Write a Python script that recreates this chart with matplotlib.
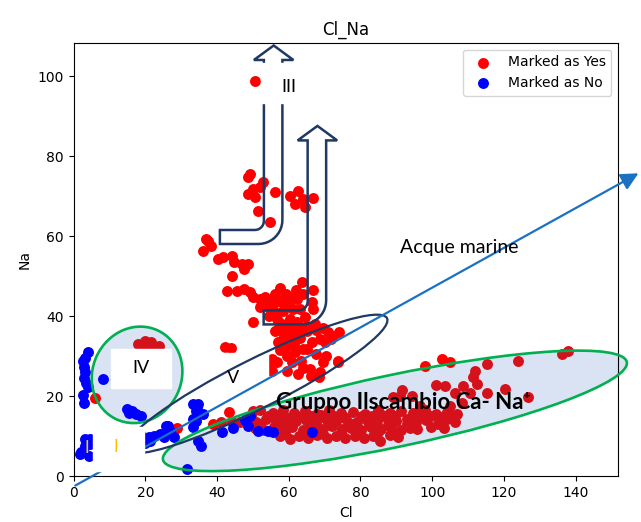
import numpy as np
import matplotlib
matplotlib.use('Agg')
import matplotlib.pyplot as plt
from matplotlib.patches import Ellipse, Rectangle, PathPatch, FancyArrowPatch
from matplotlib.path import Path
from matplotlib.transforms import ScaledTranslation

# campioni "Yes" (Cl, Na)
yes_top = [(50.7, 98.8), (49.3, 75.5), (48.5, 74.8), (52.9, 73.5), (48.7, 70.5),
           (50.7, 69.8), (49.9, 71.8), (52.1, 72.3), (51.5, 66.3), (56.3, 71.0),
           (54.9, 63.5), (60.4, 70.0), (62.7, 71.3), (61.8, 68.0), (64.6, 67.3),
           (66.9, 69.5), (64.1, 69.3)]
yes_mid = [(36.8, 59.3), (37.6, 58.8), (36.2, 56.3), (38.2, 57.5), (40.4, 54.3),
           (41.8, 54.8), (44.3, 55.0), (44.6, 53.5), (47.1, 53.0), (48.7, 53.0),
           (47.4, 51.8), (44.3, 50.0), (42.9, 46.3), (45.7, 46.3), (47.4, 46.8),
           (49.3, 46.0), (50.1, 44.8), (52.1, 44.3), (53.5, 44.8), (56.3, 45.5),
           (59.1, 45.5), (60.4, 44.8), (62.4, 44.3), (63.8, 48.5), (66.7, 46.6),
           (66.6, 43.5), (66.9, 41.8), (52.1, 42.3), (54.0, 42.5), (55.7, 43.0),
           (57.7, 43.5), (56.3, 41.0), (58.5, 41.3), (61.3, 41.8), (63.2, 41.8),
           (49.9, 38.7), (56.8, 39.3), (60.4, 39.3), (62.4, 38.5), (57.1, 36.8),
           (59.6, 36.8), (63.2, 36.8), (65.2, 37.5), (67.4, 38.0), (42.3, 32.3),
           (44.0, 32.0), (54.5, 40.0), (58.0, 38.0), (61.8, 37.2), (64.5, 39.8),
           (60.0, 42.8), (55.0, 44.0), (58.0, 44.0), (64.0, 45.5), (62.0, 46.5),
           (57.5, 47.0)]
yes_low = [(56.3, 36.3), (58.5, 36.0), (57.1, 33.5), (60.4, 35.0), (62.7, 36.0),
           (65.2, 36.3), (55.4, 29.3), (56.8, 28.5), (59.6, 30.0), (61.8, 31.0),
           (64.1, 31.8), (66.6, 33.5), (68.8, 34.3), (71.0, 36.0), (72.4, 35.0),
           (70.2, 33.5), (73.8, 28.8), (59.6, 26.3), (62.7, 25.5), (66.0, 26.8),
           (68.8, 26.0), (69.6, 28.5), (65.2, 31.8), (66.3, 25.0), (68.5, 24.8),
           (74.1, 36.0), (71.9, 34.3), (54.9, 28.5), (55.4, 26.3), (59.3, 32.4),
           (61.5, 33.2), (63.5, 28.8), (57.5, 31.5), (58.0, 34.0), (63.0, 34.5),
           (67.5, 30.5), (70.5, 30.0), (64.0, 27.0), (61.0, 28.5), (67.5, 36.5),
           (69.5, 37.0)]
yes_left = [(18.1, 33.0), (20.0, 33.8), (21.7, 33.5), (23.7, 32.5), (19.5, 32.3),
            (22.3, 32.3), (6.0, 19.6), (28.8, 12.2)]
yes_band = [(43.2, 16.0), (39.0, 13.0), (41.0, 13.5), (44.3, 13.5), (46.5, 13.5),
            (50.0, 16.3),
            (57.5, 10.2), (60.4, 9.3), (62.8, 10.0), (65.5, 9.6), (68.0, 10.3),
            (70.6, 9.5), (73.2, 10.1), (75.8, 9.7), (78.5, 10.2), (81.0, 9.6),
            (83.6, 10.0), (85.5, 8.9), (88.2, 10.3), (90.5, 9.8),
            (59.0, 10.8), (64.2, 10.9), (69.5, 10.7), (74.5, 11.0), (79.8, 10.8),
            (84.8, 11.1), (89.6, 10.9),
            (50.5, 12.0), (53.2, 11.6), (55.8, 12.4), (58.6, 11.8), (61.0, 12.3),
            (63.9, 11.7), (66.5, 12.2), (69.3, 11.9), (72.0, 12.5), (74.8, 11.8),
            (77.3, 12.2), (80.1, 11.7), (82.9, 12.4), (85.6, 11.9), (88.4, 12.3),
            (91.2, 11.6), (93.8, 12.1), (95.8, 11.8),
            (52.0, 13.0), (57.3, 12.9), (60.2, 13.2), (65.8, 13.1), (71.3, 12.9),
            (76.9, 13.3), (82.3, 13.1), (87.6, 12.8), (93.0, 13.2), (99.6, 12.4),
            (103.2, 12.0),
            (47.8, 14.0), (50.9, 13.6), (53.6, 14.3), (56.4, 13.8), (59.2, 14.5),
            (62.0, 13.9), (64.8, 14.2), (67.7, 13.6), (70.4, 14.4), (73.3, 13.9),
            (76.1, 14.3), (78.9, 13.7), (81.8, 14.2), (84.5, 13.8), (87.3, 14.5),
            (90.0, 13.9), (92.9, 14.3), (95.6, 13.7), (98.4, 14.1), (101.7, 13.0),
            (104.0, 14.3), (106.4, 13.5),
            (49.5, 15.1), (54.3, 15.0), (57.4, 15.3), (60.7, 14.9), (63.4, 15.2),
            (66.3, 15.0), (69.1, 15.3), (72.6, 15.1), (75.5, 14.9), (80.3, 15.2),
            (83.2, 15.0), (86.0, 15.3), (89.5, 15.1), (96.2, 15.0), (99.6, 15.2),
            (102.7, 14.8), (105.5, 15.0),
            (52.0, 16.5), (55.5, 15.8), (58.4, 16.7), (61.6, 15.9), (64.5, 16.4),
            (67.9, 15.7), (71.2, 16.6), (74.6, 15.9), (78.0, 16.2), (81.4, 15.6),
            (84.9, 16.5), (88.1, 15.8), (91.3, 16.4), (94.7, 15.9), (97.9, 16.6),
            (101.0, 15.7), (104.2, 16.2), (107.0, 15.5)]
yes_right = [(98.0, 27.5), (102.8, 29.3), (105.0, 28.5), (115.3, 28.0), (124.0, 28.8),
             (136.2, 30.5), (137.9, 31.3), (112.0, 26.3), (111.4, 24.8), (112.5, 23.0),
             (101.2, 22.9), (103.6, 22.5), (108.7, 22.5), (120.3, 21.8), (126.7, 19.8),
             (115.2, 20.8), (110.5, 20.8), (106.4, 20.8), (108.2, 18.3), (105.0, 17.5),
             (96.6, 17.5), (94.3, 20.0), (91.5, 21.6), (91.0, 20.0), (89.1, 19.8),
             (73.7, 28.7)]

# campioni "No" (Cl, Na)
no_left = [(4.0, 31.2), (2.7, 28.8), (2.9, 27.3), (3.1, 26.0), (2.8, 24.6),
           (3.5, 23.3), (4.1, 22.4), (2.6, 20.3), (2.8, 18.3), (3.2, 29.6),
           (8.1, 24.3), (14.8, 16.8), (16.2, 16.3), (17.5, 15.5), (18.7, 15.0),
           (15.5, 15.8),
           (3.3, 7.5), (2.2, 6.0), (4.7, 9.3), (4.2, 5.0), (1.9, 5.5), (3.3, 9.3),
           (4.5, 8.0), (17.5, 9.5), (18.5, 10.5)]
no_mid = [(20.9, 9.8), (22.3, 10.0), (25.9, 12.5), (24.2, 10.5), (19.9, 8.3),
          (21.4, 8.8), (27.0, 11.3), (25.1, 9.8), (27.9, 9.8), (26.2, 12.5),
          (33.4, 18.0), (34.8, 18.0), (34.0, 16.3), (36.2, 15.5), (33.4, 14.3),
          (33.4, 12.3), (34.5, 16.8), (34.0, 13.8), (34.8, 8.8), (35.4, 7.5),
          (41.3, 11.2), (44.5, 12.0), (47.8, 14.1), (49.2, 15.0), (48.5, 12.5),
          (51.3, 11.3), (54.3, 11.3), (55.7, 11.0), (66.6, 11.0), (31.6, 1.8)]

yes = np.array(yes_top + yes_mid + yes_low + yes_left + yes_band + yes_right)
no = np.array(no_left + no_mid)

fig = plt.figure(figsize=(6.41, 5.22), dpi=100)
ax = fig.add_subplot(111)
fig.subplots_adjust(left=0.1148, right=0.9646, bottom=0.0872, top=0.9182)
ax.set_xlim(0, 151.9)
ax.set_ylim(0, 108.4)

navy = '#1f3864'
green = '#00b050'
fill = '#dae3f3'


def at(x, y):
    # offset in pollici ancorato a un punto in coordinate dati
    return fig.dpi_scale_trans + ScaledTranslation(x, y, ax.transData)


def ellipse(x, y, w, h, angle, **kw):
    return Ellipse((0, 0), w / fig.dpi, h / fig.dpi, angle=angle,
                   transform=at(x, y), clip_on=False, **kw)


def bent_arrow(x, y, **kw):
    fh, sl, sr = 14, 44, 62.5
    hb, ht, hl, hr, tx = 184, 198.5, 34, 73.5, 53.8
    ri, ro = 9, 24
    a = np.linspace(-np.pi / 2, 0, 12)
    verts = [(0, 0)]
    verts += list(zip(sr - ro + ro * np.cos(a), ro + ro * np.sin(a)))
    verts += [(sr, hb), (hr, hb), (tx, ht), (hl, hb), (sl, hb)]
    b = np.linspace(0, -np.pi / 2, 8)
    verts += list(zip(sl - ri + ri * np.cos(b), fh + ri + ri * np.sin(b)))
    verts += [(0, fh), (0, 0)]
    verts = np.array(verts) / fig.dpi
    codes = [Path.MOVETO] + [Path.LINETO] * (len(verts) - 2) + [Path.CLOSEPOLY]
    return PathPatch(Path(verts, codes), transform=at(x, y), clip_on=False, **kw)


# ellissi dei gruppi (riempimento sotto i punti)
iv_fill = ellipse(17.7, 25.4, 98, 89, 65, facecolor=fill, edgecolor='none', zorder=1)
gr_fill = ellipse(89.6, 16.4, 474, 72, 11.9, facecolor=fill, edgecolor='none', zorder=1)
ax.add_patch(iv_fill)
ax.add_patch(gr_fill)

pts = ax.transData.transform(yes)
inside = iv_fill.contains_points(pts) | gr_fill.contains_points(pts)

ax.scatter(yes[~inside, 0], yes[~inside, 1], s=62, c='red', linewidths=0,
           zorder=2, label='Marked as Yes')
ax.scatter(yes[inside, 0], yes[inside, 1], s=62, c='#d5121c', linewidths=0, zorder=2)
ax.scatter(no[:, 0], no[:, 1], s=62, c='blue', linewidths=0, zorder=2,
           label='Marked as No')

# riquadri bianchi delle etichette
ax.add_patch(Rectangle((41.1, 18.6), 13.1, 12.3, color='white', zorder=3))
ax.add_patch(Rectangle((10.4, 22.1), 16.8, 9.8, color='white', zorder=3))

ax.add_patch(ellipse(17.7, 25.4, 98, 89, 65, fill=False, edgecolor=green,
                     lw=1.9, zorder=4))
ax.add_patch(ellipse(89.6, 16.4, 474, 72, 11.9, fill=False, edgecolor=green,
                     lw=1.9, zorder=4))
ax.add_patch(ellipse(50.9, 23.1, 293, 49, 26.7, fill=False, edgecolor=navy,
                     lw=1.6, zorder=4))

ax.add_patch(FancyArrowPatch((-0.2, -2.6), (158.2, 76.1),
                             arrowstyle='-|>,head_length=0.7,head_width=0.35',
                             mutation_scale=15, color='#1a70c2', lw=1.6,
                             zorder=4, clip_on=False))

ax.add_patch(bent_arrow(40.8, 58.1, fill=False, edgecolor=navy, lw=1.8, zorder=4))
ax.add_patch(bent_arrow(53.0, 38.0, fill=False, edgecolor=navy, lw=1.8, zorder=4))

ax.add_patch(Rectangle((5.4, 1.4), 14.1, 11.0, color='white', zorder=5))
ax.add_patch(Rectangle((52.3, 93.4), 15.6, 10.0, color='white', zorder=5))

lab = dict(family=['Lato', 'DejaVu Sans'], zorder=6, ha='center', va='center')
ax.text(60.1, 97.4, 'III', fontsize=13, **lab)
ax.text(18.8, 27.1, 'IV', fontsize=13, **lab)
ax.text(44.4, 24.6, 'V', fontsize=13, **lab)
ax.text(3.7, 7.1, 'I', fontsize=12, color='#ecd000', **lab)
ax.text(11.8, 7.4, 'I', fontsize=12, color='#ffc000', **lab)
ax.text(91.0, 57.1, 'Acque marine', fontsize=14, family=['Lato', 'DejaVu Sans'],
        ha='left', va='center', zorder=6)
ax.text(56.4, 18.4, 'Gruppo Ilscambio Ca- Na\u207a', fontsize=16, fontweight='bold',
        family=['Lato', 'DejaVu Sans'], ha='left', va='center', zorder=6)

ax.set_title('Cl_Na')
ax.set_xlabel('Cl')
ax.set_ylabel('Na')
ax.legend(loc='upper right')

fig.savefig('out.png', dpi=100)
